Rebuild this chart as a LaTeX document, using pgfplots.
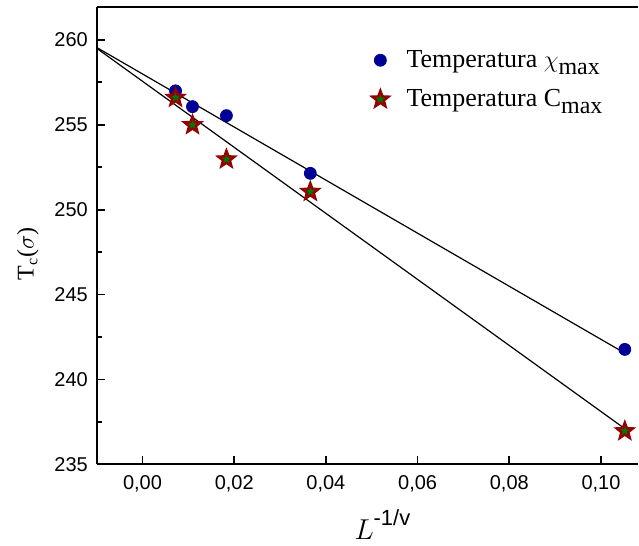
\documentclass[border=0pt]{standalone}
\usepackage{pgfplots}
\pgfplotsset{compat=1.18}
\usepackage{fontspec}
\setmainfont{Liberation Serif}
\setsansfont{Liberation Sans}
\usetikzlibrary{calc}
\definecolor{ptblue}{RGB}{0,0,150}
\definecolor{stared}{RGB}{150,0,0}
\definecolor{stargreen}{RGB}{0,120,0}
\pgfdeclareplotmark{fstar}{%
  \pgfpathmoveto{\pgfpointpolar{90}{\pgfplotmarksize}}%
  \pgfpathlineto{\pgfpointpolar{126}{0.42*\pgfplotmarksize}}%
  \pgfpathlineto{\pgfpointpolar{162}{\pgfplotmarksize}}%
  \pgfpathlineto{\pgfpointpolar{198}{0.42*\pgfplotmarksize}}%
  \pgfpathlineto{\pgfpointpolar{234}{\pgfplotmarksize}}%
  \pgfpathlineto{\pgfpointpolar{270}{0.42*\pgfplotmarksize}}%
  \pgfpathlineto{\pgfpointpolar{306}{\pgfplotmarksize}}%
  \pgfpathlineto{\pgfpointpolar{342}{0.42*\pgfplotmarksize}}%
  \pgfpathlineto{\pgfpointpolar{18}{\pgfplotmarksize}}%
  \pgfpathlineto{\pgfpointpolar{54}{0.42*\pgfplotmarksize}}%
  \pgfpathclose
  \pgfusepathqfillstroke}
\newcommand{\lsub}[1]{\raisebox{-3.5pt}{\fontsize{12}{14}\selectfont #1}}
\begin{document}
\begin{tikzpicture}
\begin{axis}[name=ax,
  scale only axis,
  width=271pt, height=229pt,
  xmin=-0.00996, xmax=0.1081,
  ymin=235, ymax=261.94,
  axis x line=box, axis y line=left,
  axis line style={-, line width=0.9pt},
  xtick pos=bottom, ytick pos=left,
  xtick={0,0.02,0.04,0.06,0.08,0.10},
  ytick={235,240,245,250,255,260},
  minor ytick={237.5,242.5,247.5,252.5,257.5},
  tick align=inside,
  major tick length=4pt, minor tick length=2.5pt,
  tick style={line width=0.9pt, black},
  scaled x ticks=false,
  xticklabel style={/pgf/number format/fixed, /pgf/number format/fixed zerofill, /pgf/number format/precision=2, /pgf/number format/use comma},
  /pgf/number format/assume math mode=true,
  ticklabel style={font=\sffamily\fontsize{10}{12}\selectfont, text=black},
  every x tick label/.append style={yshift=-2pt},
  every y tick label/.append style={xshift=-1pt},
  xlabel={\fontsize{15}{17}\selectfont$L$\raisebox{7pt}{\sffamily\fontsize{11}{13}\selectfont -1/v}},
  every axis x label/.style={at={(rel axis cs:0.463,0)}, anchor=base west, yshift=-37.5pt},
  ylabel={\fontsize{12}{14}\selectfont T$_{\mathrm{c}}$($\sigma$)},
  every axis y label/.style={at={(rel axis cs:0,0.46)}, rotate=90, anchor=center, yshift=34.5pt},
  legend style={draw=none, fill=none, at={(rel axis cs:0.508,0.915)}, anchor=north west,
    font=\fontsize{13}{15}\selectfont, row sep=5.5pt, inner sep=0pt,
    /tikz/every odd column/.append style={column sep=7pt}},
  legend cell align=left,
  clip=false,
]
\addplot[only marks, mark=*, mark size=3pt, color=ptblue, fill=ptblue] coordinates {
  (0.0072,257.0) (0.0109,256.07) (0.0183,255.54) (0.0366,252.14) (0.1052,241.77)
};
\addlegendentry{Temperatura $\chi$\lsub{max}}
\addplot[only marks, mark=fstar, mark options={line width=1.2pt, line join=miter}, mark size=4.3pt, draw=stared, fill=stargreen] coordinates {
  (0.0072,256.6) (0.0109,254.99) (0.0183,252.97) (0.0366,251.06) (0.1052,236.96)
};
\addlegendentry{Temperatura C\lsub{max}}
\addplot[black, line width=0.6pt, forget plot] coordinates {(-0.00996,259.55) (0.1052,241.55)};
\addplot[black, line width=0.6pt, forget plot] coordinates {(-0.00996,259.5) (0.1052,237.1)};
\end{axis}
\path[use as bounding box] ($(ax.south west)+(-48.5pt,-39.5pt)$) rectangle ++(319.5pt,272pt);
\end{tikzpicture}
\end{document}
